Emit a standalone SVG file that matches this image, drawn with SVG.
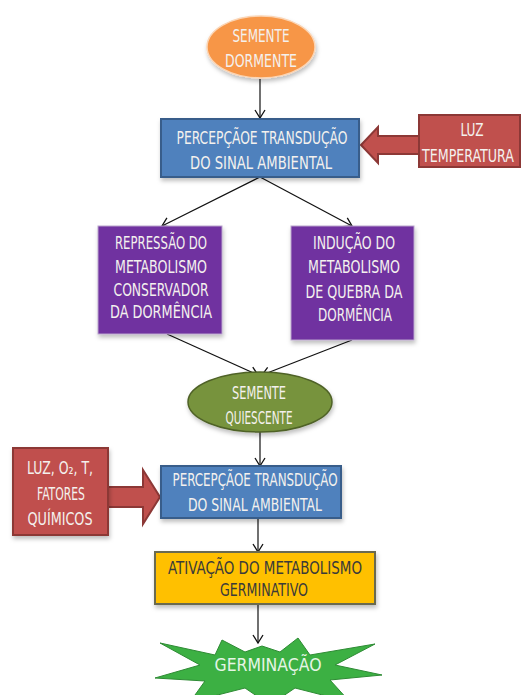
<svg xmlns="http://www.w3.org/2000/svg" width="521" height="695" viewBox="0 0 521 695">
<defs>
<marker id="arr" markerWidth="12" markerHeight="12" refX="10" refY="6" orient="auto" markerUnits="userSpaceOnUse">
<polyline points="2,1 10,6 2,11" fill="none" stroke="#111" stroke-width="1.3"/>
</marker>
<filter id="sh" x="-10%" y="-10%" width="130%" height="140%">
<feDropShadow dx="1" dy="3" stdDeviation="2" flood-color="#000" flood-opacity="0.25"/>
</filter>
</defs>
<style>
text{font-family:"Liberation Sans Narrow","DejaVu Sans Condensed","Liberation Sans",sans-serif;font-size:17px;text-anchor:middle}
.lt{fill:#f4f1ee}
.dk{fill:#3a3a3a}
.blue{fill:#4f81bd;stroke:#385d8a;stroke-width:2}
.red{fill:#c0504d;stroke:#8c3836;stroke-width:2}
.pur{fill:#7030a0;stroke:#b9a5cc;stroke-width:1}
.conn{stroke:#111;stroke-width:1.2;fill:none;marker-end:url(#arr)}
</style>
<rect width="521" height="695" fill="#ffffff"/>

<g id="connectors">
<line class="conn" x1="260" y1="79" x2="260" y2="118"/>
<line class="conn" x1="260" y1="177" x2="162" y2="226"/>
<line class="conn" x1="260" y1="177" x2="352" y2="226"/>
<line class="conn" x1="167" y1="334" x2="258" y2="375"/>
<line class="conn" x1="352" y1="340" x2="262" y2="375"/>
<line class="conn" x1="260" y1="432" x2="260" y2="466"/>
<line class="conn" x1="258" y1="518" x2="258" y2="552"/>
<line class="conn" x1="258" y1="604" x2="258" y2="643"/>
<polygon class="red" points="419,136 378,136 378,127 361,145 378,163 378,154 419,154"/>
<polygon class="red" points="108,487 143,487 143,470 160,497 143,524 143,507 108,507"/>
</g>

<g id="semente-dormente">
<ellipse cx="261" cy="47" rx="54" ry="31" fill="#f79646" stroke="#fbd5b5" stroke-width="1.5" filter="url(#sh)"/>
<text class="lt" x="261" y="42" textLength="57" lengthAdjust="spacingAndGlyphs">SEMENTE</text>
<text class="lt" x="261" y="67" textLength="72" lengthAdjust="spacingAndGlyphs">DORMENTE</text>
</g>

<g id="percepcao-1">
<rect class="blue" x="161" y="119" width="198" height="58" filter="url(#sh)"/>
<text class="lt" x="262" y="144" textLength="171" lengthAdjust="spacingAndGlyphs">PERCEPÇÃOE TRANSDUÇÃO</text>
<text class="lt" x="261" y="169" textLength="142" lengthAdjust="spacingAndGlyphs">DO  SINAL  AMBIENTAL</text>
</g>

<g id="luz-temperatura">
<rect class="red" x="419" y="115" width="101" height="52"/>
<text class="lt" x="472" y="136" textLength="23" lengthAdjust="spacingAndGlyphs">LUZ</text>
<text class="lt" x="468" y="162" font-size="15" textLength="92" lengthAdjust="spacingAndGlyphs">TEMPERATURA</text>
</g>

<g id="repressao">
<rect class="pur" x="98" y="226" width="124" height="108" filter="url(#sh)"/>
<text class="lt" x="161" y="249" textLength="92" lengthAdjust="spacingAndGlyphs">REPRESSÃO DO</text>
<text class="lt" x="161" y="273" textLength="92" lengthAdjust="spacingAndGlyphs">METABOLISMO</text>
<text class="lt" x="161" y="296" textLength="95" lengthAdjust="spacingAndGlyphs">CONSERVADOR</text>
<text class="lt" x="161" y="318" textLength="102" lengthAdjust="spacingAndGlyphs">DA DORMÊNCIA</text>
</g>

<g id="inducao">
<rect class="pur" x="291" y="226" width="123" height="114" filter="url(#sh)"/>
<text class="lt" x="354" y="249" textLength="82" lengthAdjust="spacingAndGlyphs">INDUÇÃO DO</text>
<text class="lt" x="354" y="273" textLength="92" lengthAdjust="spacingAndGlyphs">METABOLISMO</text>
<text class="lt" x="354" y="298" textLength="97" lengthAdjust="spacingAndGlyphs">DE QUEBRA DA</text>
<text class="lt" x="355" y="321" textLength="74" lengthAdjust="spacingAndGlyphs">DORMÊNCIA</text>
</g>

<g id="semente-quiescente">
<ellipse cx="260" cy="402" rx="72" ry="30" fill="#77933c" stroke="#4f6228" stroke-width="1.5" filter="url(#sh)"/>
<text class="lt" x="259" y="399" textLength="54" lengthAdjust="spacingAndGlyphs">SEMENTE</text>
<text class="lt" x="259" y="424" textLength="67" lengthAdjust="spacingAndGlyphs">QUIESCENTE</text>
</g>

<g id="percepcao-2">
<rect class="blue" x="161" y="466" width="180" height="52" filter="url(#sh)"/>
<text class="lt" x="255" y="486" textLength="165" lengthAdjust="spacingAndGlyphs">PERCEPÇÃOE TRANSDUÇÃO</text>
<text class="lt" x="255" y="511" textLength="134" lengthAdjust="spacingAndGlyphs">DO  SINAL  AMBIENTAL</text>
</g>

<g id="luz-o2-t">
<rect class="red" x="13" y="448" width="95" height="87" filter="url(#sh)"/>
<text class="lt" x="60" y="474" textLength="66" lengthAdjust="spacingAndGlyphs">LUZ, O₂, T,</text>
<text class="lt" x="61" y="500" textLength="48" lengthAdjust="spacingAndGlyphs">FATORES</text>
<text class="lt" x="60" y="525" textLength="65" lengthAdjust="spacingAndGlyphs">QUÍMICOS</text>
</g>

<g id="ativacao">
<rect x="155" y="552" width="220" height="52" fill="#ffc000" stroke="#6b6b50" stroke-width="2" filter="url(#sh)"/>
<text class="dk" x="265" y="574" textLength="194" lengthAdjust="spacingAndGlyphs">ATIVAÇÃO DO METABOLISMO</text>
<text class="dk" x="264" y="596" textLength="88" lengthAdjust="spacingAndGlyphs">GERMINATIVO</text>
</g>

<g id="germinacao">
<polygon points="160,643 215,655 222,640 245,652 262,646 280,652 298,638 310,655 375,644 335,665 382,675 330,680 350,702 295,688 270,705 245,688 190,702 205,681 155,678 200,665" fill="#3cb043" stroke="#2e8b34" stroke-width="1"/>
<text x="268" y="671" textLength="107" lengthAdjust="spacingAndGlyphs" fill="#e6f5e6">GERMINAÇÃO</text>
</g>
</svg>
